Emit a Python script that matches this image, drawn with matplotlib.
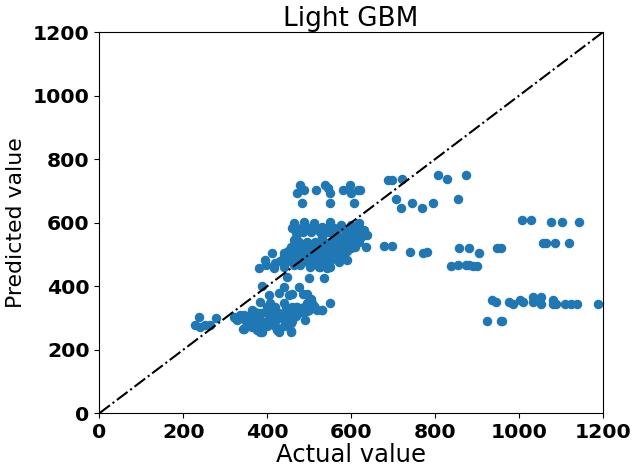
import matplotlib.pyplot as plt
import numpy as np

# points: actual vs predicted
# sparse points, right side
far_x = [688, 698, 721, 807, 829, 874,
         707, 719, 745, 769, 795, 855,
         1007, 1029, 1076, 1103, 1143,
         1058, 1066, 1086, 1120,
         678, 697, 740, 771, 781,
         857, 881, 905, 947, 957,
         838, 855, 874, 881, 891, 900,
         935, 945, 976, 986, 1003, 1010,
         1034, 1034, 1053, 1052,
         1081, 1081, 1089, 1109, 1124, 1139, 1189,
         925, 957, 960]
far_y = [736, 736, 739, 752, 739, 752,
         675, 646, 662, 646, 662, 675,
         608, 608, 602, 602, 602,
         536, 536, 536, 536,
         526, 526, 507, 505, 507,
         520, 520, 504, 520, 520,
         463, 466, 466, 466, 463, 463,
         357, 350, 350, 343, 357, 350,
         365, 350, 365, 343,
         357, 343, 343, 343, 343, 343, 343,
         290, 290, 290]

# top row of the main cluster (~700)
top_x = [478, 472, 487, 517, 537, 551, 545, 581, 597, 599, 616, 622, 483, 551, 607]
top_y = [720, 694, 702, 702, 720, 694, 710, 702, 720, 694, 702, 702, 662, 662, 662]

# dense upper cluster
up_x = [380, 396, 412, 398, 420, 440, 416, 440, 456, 464, 460, 464, 487, 511,
        531, 551, 575, 599, 619, 631, 639, 635, 611, 615, 591, 599, 591, 571,
        551, 527, 503, 479, 464, 503, 523, 543, 583,
        430, 450, 470, 490, 510, 530, 550,
        440, 460, 480, 500, 520, 540, 560, 575,
        450, 470, 490, 510, 530, 550, 570, 590,
        470, 485, 505, 525, 545, 565, 585, 610,
        475, 495, 515, 535, 555, 575, 600, 620,
        470, 530, 560, 580, 600, 625,
        470, 485, 505, 525, 545, 565, 590, 610,
        480, 500, 520, 545, 560, 580, 600, 620]
up_y = [457, 483, 504, 467, 473, 462, 457, 504, 525, 546, 583, 599, 604, 599,
        588, 604, 594, 594, 599, 578, 562, 525, 552, 562, 546, 520, 483, 478,
        462, 462, 462, 467, 467, 467, 462, 459, 494,
        480, 480, 480, 480, 480, 480, 480,
        495, 495, 495, 495, 495, 495, 495, 495,
        510, 510, 510, 510, 510, 510, 510, 510,
        525, 525, 525, 525, 525, 525, 525, 525,
        540, 540, 540, 540, 540, 540, 540, 540,
        555, 555, 555, 555, 555, 555,
        570, 570, 570, 570, 570, 570, 570, 570,
        585, 585, 585, 585, 585, 585, 585, 585]

# points between the two clusters
mid_x = [448, 499, 535, 475, 440, 388, 460, 486, 494, 404, 428, 452, 504,
         551, 495, 511, 468, 487, 515, 531, 484, 495, 456, 456]
mid_y = [428, 425, 425, 399, 399, 401, 375, 375, 375, 373, 378, 373, 361,
         346, 346, 339, 336, 331, 331, 325, 318, 322, 288, 257]

# lower cluster
low_x = [384, 408, 440, 460, 487, 507,
         320, 344, 364, 384, 404, 428, 448, 479, 499,
         328, 368, 392, 416, 440, 456, 491,
         343, 376, 388, 424, 456,
         237, 229, 241, 253, 265, 277, 324, 336, 348, 364, 344, 364, 356,
         384, 416, 428, 452, 472, 495, 519, 531,
         360, 380, 400, 420, 440,
         350, 380, 400, 420, 460,
         360, 380, 410, 430, 450, 470,
         370, 395, 420, 460,
         400, 420, 445]
low_y = [351, 346, 346, 336, 336, 346,
         304, 309, 325, 315, 320, 315, 320, 320, 325,
         294, 294, 288, 283, 294, 285, 294,
         267, 262, 257, 262, 260,
         304, 278, 272, 278, 278, 299, 299, 309, 294, 320, 267, 272, 288,
         257, 278, 257, 288, 336, 341, 325, 325,
         275, 275, 275, 275, 275,
         290, 290, 290, 290, 290,
         305, 305, 305, 305, 305, 305,
         320, 320, 320, 320,
         335, 335, 335]

actual = far_x + top_x + up_x + mid_x + low_x
predicted = far_y + top_y + up_y + mid_y + low_y

fig = plt.figure(figsize=(6.39, 4.71), dpi=100)
ax = fig.add_axes([0.1554, 0.1225, 0.7878, 0.8089])

ax.scatter(actual, predicted, s=34, color='#1f77b4', zorder=2)
lims = [0, 1200]
ax.plot(lims, lims, 'k-.', linewidth=1.5, zorder=3)

ax.set_xlim(0, 1200)
ax.set_ylim(0, 1200)
ax.set_xticks(np.arange(0, 1201, 200))
ax.set_yticks(np.arange(0, 1201, 200))
for lbl in ax.get_xticklabels() + ax.get_yticklabels():
    lbl.set_fontweight('bold')
    lbl.set_fontsize(14.7)

ax.set_xlabel('Actual value', fontsize=17.5, labelpad=1)
ax.set_ylabel('Predicted value', fontsize=15.8, labelpad=5)
ax.set_title('Light GBM', fontsize=18.9, pad=4)

fig.savefig('out.png', dpi=100)
